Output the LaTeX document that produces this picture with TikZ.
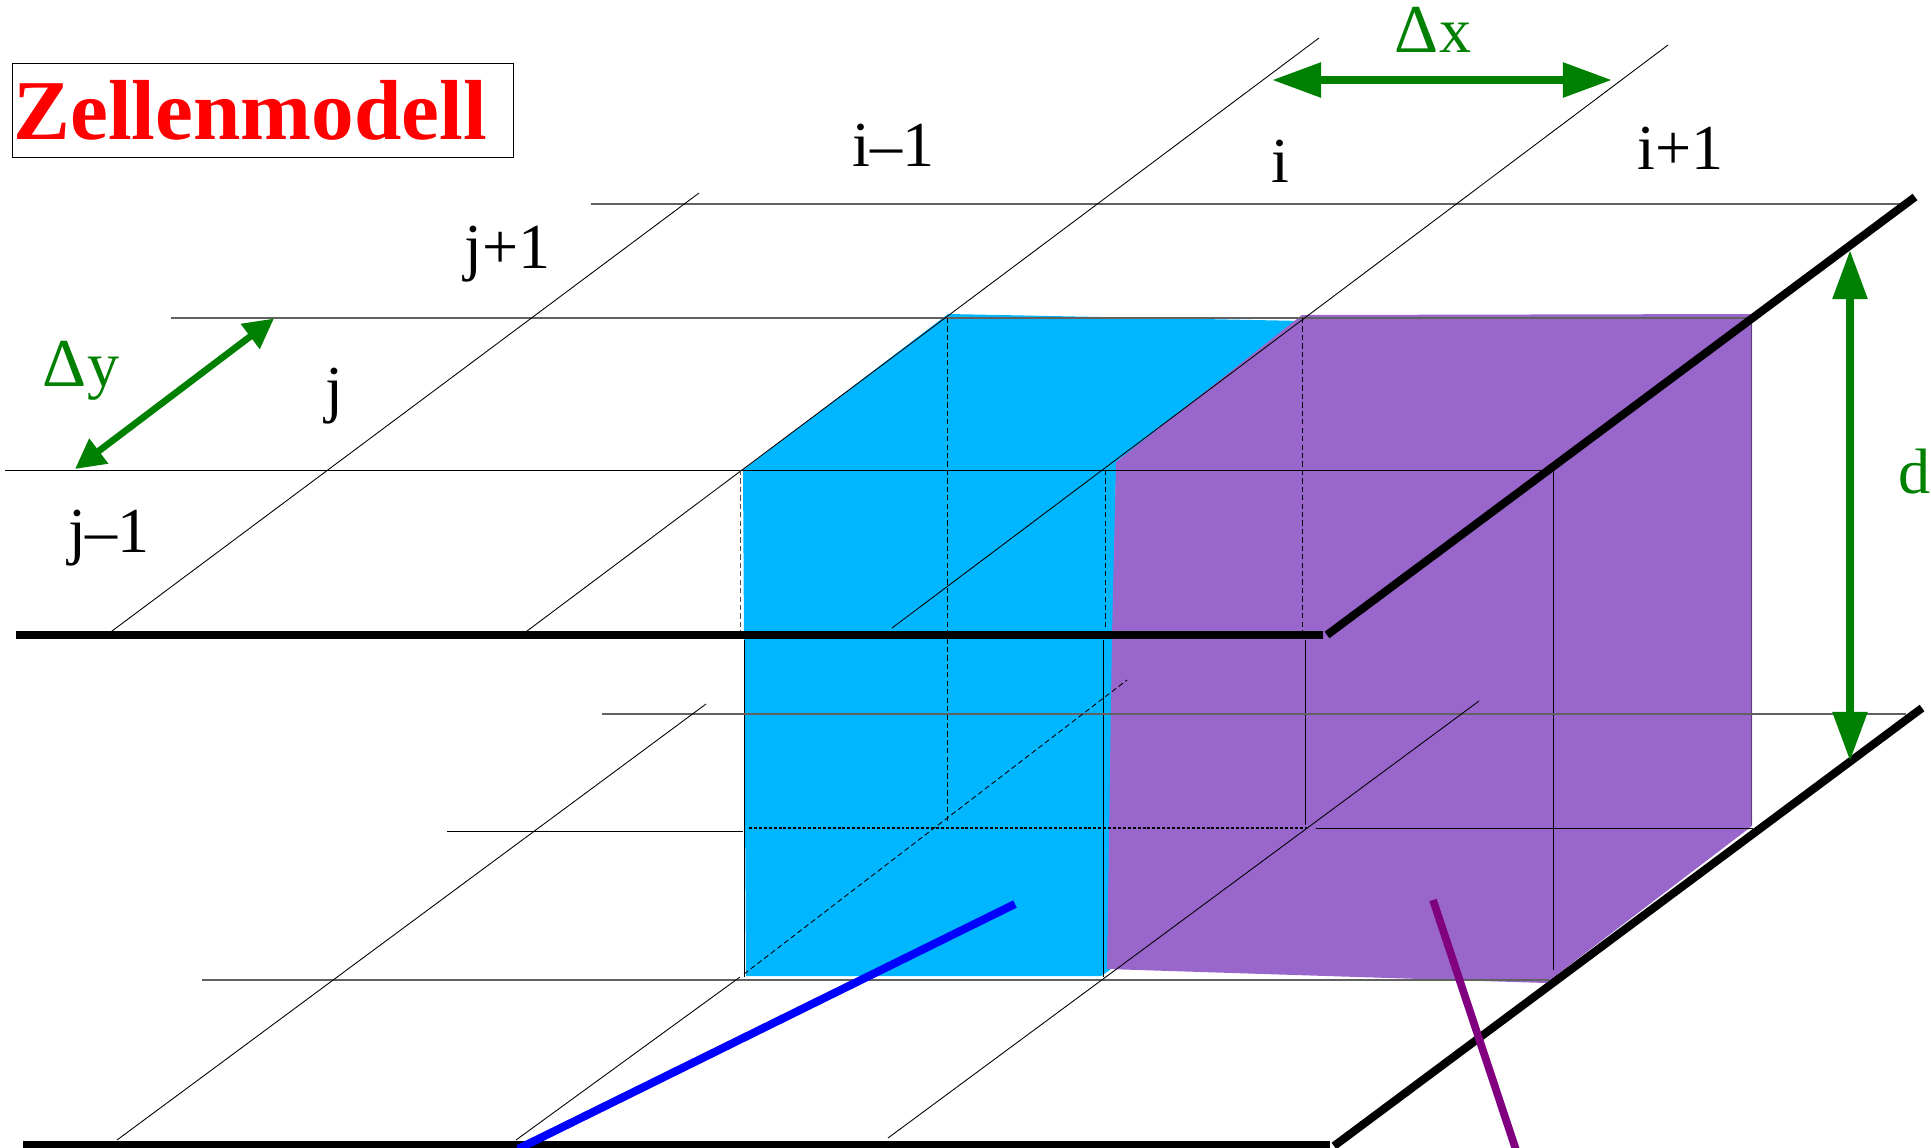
\documentclass[tikz,border=0pt]{standalone}
\usepackage{fontspec}
\setmainfont{Liberation Serif}
\usetikzlibrary{arrows.meta}
\definecolor{cellblue}{HTML}{00B7FF}
\definecolor{cellviolet}{HTML}{9966CC}
\definecolor{dimgreen}{HTML}{008000}
\definecolor{pipeblue}{HTML}{0000FF}
\definecolor{pipeviolet}{HTML}{800080}
\newcommand{\bigdelta}{{\fontsize{39}{40}\selectfont Δ}}
\tikzset{
  gridline/.style={draw=black, line width=0.5pt},
  gridgrey/.style={draw=black!62, line width=0.85pt},
  griddash/.style={draw=black, line width=0.5pt, dash pattern=on 3pt off 1.8pt},
  griddot/.style={draw=black, line width=0.8pt, dash pattern=on 1.7pt off 1.1pt},
  heavy/.style={draw=black, line width=4.6pt},
  dimarrow/.style={{Triangle[length=28pt,width=19pt]}-{Triangle[length=28pt,width=19pt]}, draw=dimgreen, line width=4.5pt},
  dimsmall/.style={{Triangle[length=17pt,width=17pt]}-{Triangle[length=17pt,width=17pt]}, draw=dimgreen, line width=3.8pt},
  index/.style={anchor=base, inner sep=0pt, font=\fontsize{36.5}{40}\selectfont},
  dimlabel/.style={index, text=dimgreen}
}
\begin{document}
\begin{tikzpicture}[x=0.02cm, y=-0.02cm]
  \useasboundingbox (0,0) rectangle (1931,1147);
  \fill[cellblue] (948,314) -- (1304,321) -- (1116,462) -- (1110,970) -- (1101,976) -- (746,976) -- (743,470) -- cycle;
  \fill[cellviolet] (1302,315) -- (1752,314) -- (1752,826) -- (1546,983) -- (1107,969) -- (1112,635) -- (1116,462) -- cycle;
  \draw[gridgrey] (591,204) -- (1900,204);
  \draw[gridgrey] (171,318) -- (1751,318);
  \draw[gridline] (5,470) -- (1553,470);
  \draw[gridline] (108,634) -- (699,193);
  \draw[gridline] (523,634) -- (1319,38);
  \draw[gridline] (892,628) -- (1668,45);
  \draw[griddash, draw=black!70] (740,470) -- (740,631);
  \draw[griddash] (947,318) -- (947,823);
  \draw[griddash] (1105,470) -- (1105,628);
  \draw[griddash] (1302,318) -- (1302,632);
  \draw[gridline] (744,640) -- (744,977);
  \draw[gridline] (1103,640) -- (1103,977);
  \draw[gridline] (1305,640) -- (1305,825);
  \draw[gridline] (1553,470) -- (1553,970);
  \draw[gridline, draw=cellviolet!60!black] (1751,318) -- (1751,825);
  \draw[gridgrey] (602,714) -- (1906,714);
  \draw[gridline] (447,831) -- (743,831);
  \draw[griddot] (749,828) -- (1307,828);
  \draw[gridline] (1316,828) -- (1753,828);
  \draw[gridgrey] (202,980) -- (1549,980);
  \draw[gridline] (117,1140) -- (706,704);
  \draw[gridline] (516,1140) -- (740,977);
  \draw[griddash] (744,974) -- (1127,680);
  \draw[gridline] (888,1138) -- (1479,701);
  \draw[heavy] (16,635) -- (1323,635);
  \draw[heavy] (1327,635) -- (1915,197);
  \draw[heavy] (23,1145) -- (1330,1145);
  \draw[heavy] (1334,1146) -- (1922,708);
  \draw[pipeblue, line width=4.6pt] (1015,904) -- (518,1149);
  \draw[pipeviolet, line width=4.4pt] (1433,900) -- (1516,1150);
  \coordinate (xleft) at (1272,80);
  \coordinate (xright) at (1612,80);
  \coordinate (ylow) at (75,469);
  \coordinate (yhigh) at (274,318.5);
  \coordinate (dtop) at (1850,250);
  \coordinate (dbot) at (1850,761);
  \draw[dimarrow] (xleft) -- (xright);
  \draw[dimsmall] (ylow) -- (yhigh);
  \draw[dimarrow] (dtop) -- (dbot);
  \node[draw=black, line width=0.5pt, minimum width=1pt, inner sep=0pt, anchor=north west] (framebox) at (12,63) {\rule{0pt}{0pt}\hspace{285pt}\rule{0pt}{53.5pt}};
  \node[anchor=base west, inner sep=0pt, text=red, font=\fontsize{48.5}{50}\selectfont\bfseries] (title) at (13,139) {Zellenmodell};
  \node[index] (iminus) at (893.5,166) {i–1};
  \node[index] (icell) at (1280,182) {i};
  \node[index] (iplus) at (1681,169) {i+1};
  \node[index] (jplus) at (508,268.5) {j+1};
  \node[index] (jcell) at (334,410) {j};
  \node[index] (jminus) at (109,552) {j–1};
  \node[dimlabel] (deltax) at (1433,52) {\bigdelta x};
  \node[dimlabel] (deltay) at (81,386) {\bigdelta y};
  \node[dimlabel] (depth) at (1915,493) {d};
\end{tikzpicture}
\end{document}
